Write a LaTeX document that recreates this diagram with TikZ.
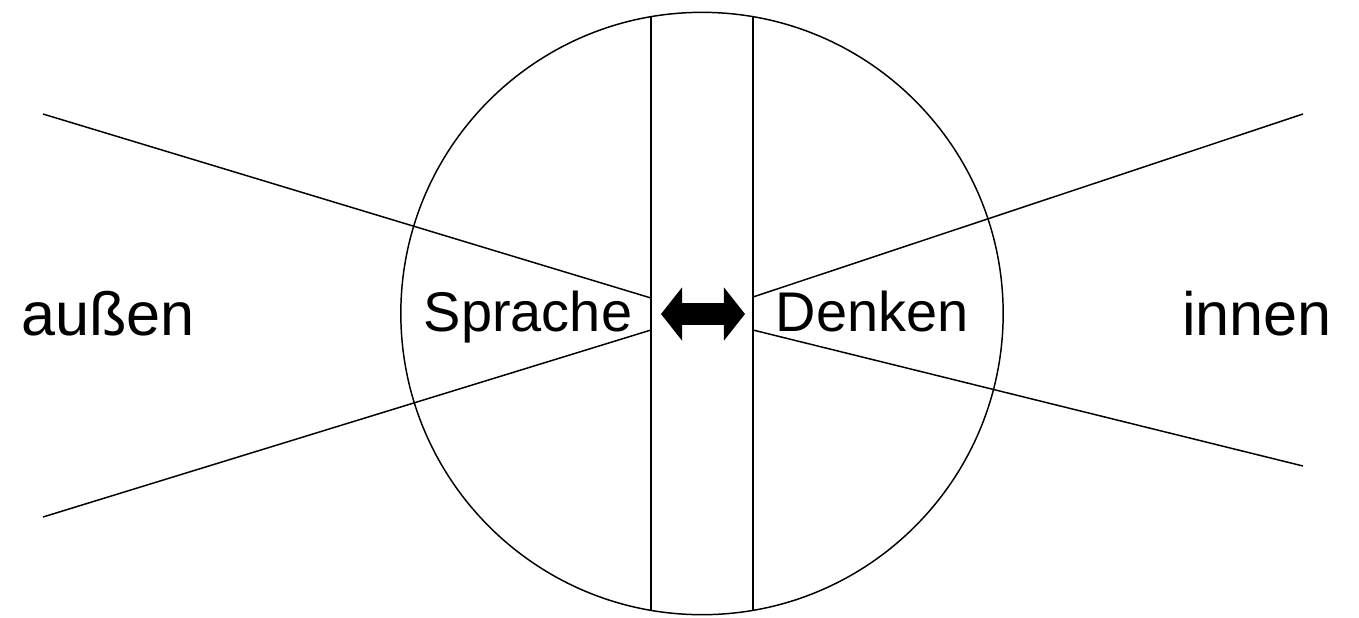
\documentclass[tikz,border=0pt]{standalone}
\usepackage{fontspec}
\setmainfont{Liberation Sans}
\usetikzlibrary{arrows.meta, calc}
\tikzset{
  % Round outline
  Ring/.style={circle,draw,line width=0.42pt,minimum size=6.02cm,inner sep=0pt},
  % Vertical walls
  Wall/.style={line width=0.72pt},
  % Slanted rays
  Ray/.style={line width=0.42pt},
  % Fat double arrow
  Dbl/.style={line width=0.22cm,
              {Triangle[length=0.21cm,width=0.52cm]}-{Triangle[length=0.21cm,width=0.52cm]}},
  % Labels
  SideLbl/.style={anchor=base,inner sep=0pt,font=\fontsize{17.4}{20}\selectfont},
  InLbl/.style={anchor=base,inner sep=0pt,font=\fontsize{15.9}{18}\selectfont},
}
\begin{document}
\begin{tikzpicture}[x=0.01cm,y=-0.01cm]
\useasboundingbox (0,0) rectangle (1359,617);
% ── circle and walls ─────────────────────
\node[Ring] at (702,313.5) (circ) {};
\coordinate (wlt) at (651,16.9);
\coordinate (wlb) at (651,610.1);
\coordinate (wrt) at (753,16.9);
\coordinate (wrb) at (753,610.1);
\draw[Wall] (wlt) -- (wlb);
\draw[Wall] (wrt) -- (wrb);
% ── rays ─────────────────────────────────
\coordinate (lt) at (43,114);
\coordinate (lb) at (43,517);
\coordinate (rt) at (1303,114);
\coordinate (rb) at (1303,466);
\coordinate (mlt) at (651,298);
\coordinate (mlb) at (651,330);
\coordinate (mrt) at (753,297);
\coordinate (mrb) at (753,330);
\draw[Ray] (lt) -- (mlt);
\draw[Ray] (lb) -- (mlb);
\draw[Ray] (rt) -- (mrt);
\draw[Ray] (rb) -- (mrb);
% ── arrow ────────────────────────────────
\coordinate (al) at (661,314);
\coordinate (ar) at (745,314);
\draw[Dbl] (al) -- (ar);
% ── labels ───────────────────────────────
\node[SideLbl] at (108,335) (out) {außen};
\node[SideLbl] at (1257,335) (in) {innen};
\node[InLbl] at (528,331) (spr) {Sprache};
\node[InLbl] at (872,331) (den) {Denken};
\end{tikzpicture}
\end{document}
